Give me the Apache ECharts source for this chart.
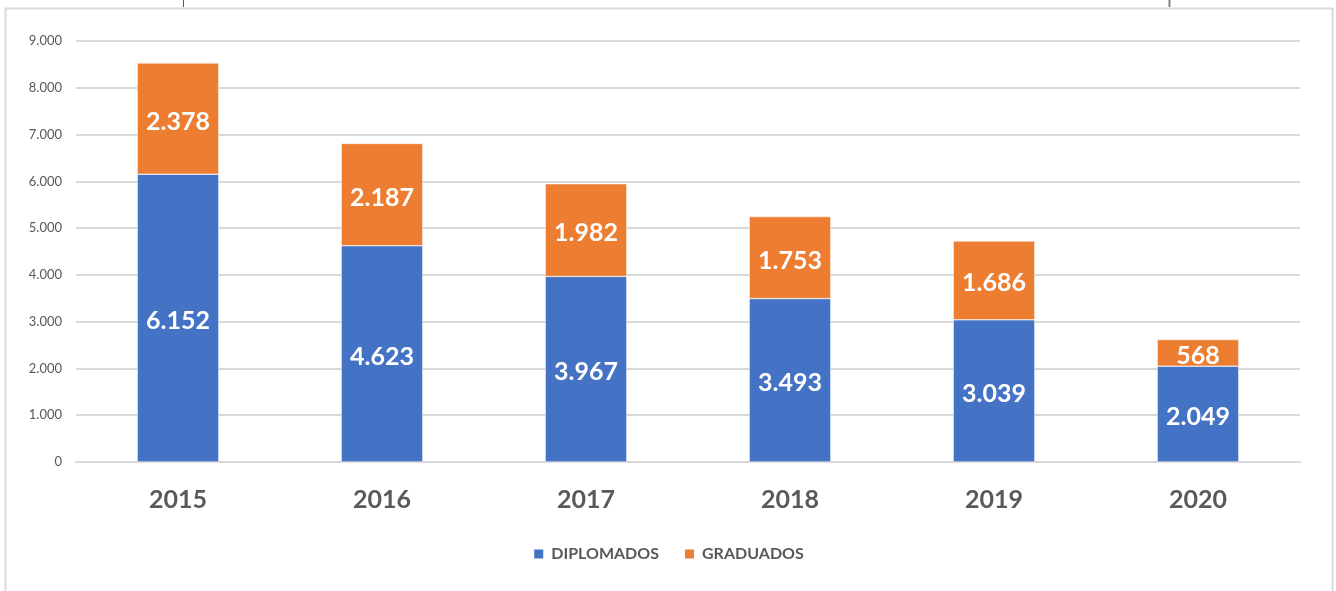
<!DOCTYPE html>
<html lang="es">
<head>
  <meta charset="UTF-8">
  <title>Diplomados y graduados</title>
  <style>
    * { margin: 0; padding: 0; box-sizing: border-box; }
    body { background: #fff; }
    #chart { width: 1336px; height: 591px; }
  </style>
</head>
<body>
  <div id="chart"></div>
  <script src="https://cdn.jsdelivr.net/npm/echarts@6/dist/echarts.min.js"></script>
  <script>
    const years = ['2015', '2016', '2017', '2018', '2019', '2020']
    const diplomados = [6152, 4623, 3967, 3493, 3039, 2049]
    const graduados = [2378, 2187, 1982, 1753, 1686, 568]
    const yTicks = [0, 1000, 2000, 3000, 4000, 5000, 6000, 7000, 8000, 9000]

    const fmt = v => String(v).replace(/\B(?=(\d{3})+(?!\d))/g, '.')
    const font = 'Lato, "Open Sans", sans-serif'

    const chart = echarts.init(document.getElementById('chart'))

    const labelStyle = {
      show: true,
      position: 'inside',
      offset: [0, 3],
      color: '#fff',
      fontFamily: font,
      fontWeight: 'bold',
      fontSize: 25,
      formatter: p => fmt(p.value)
    }

    chart.setOption({
      animation: false,
      textStyle: { fontFamily: font },
      graphic: [
        // outer frame of the chart area
        {
          type: 'rect',
          shape: { x: 5.5, y: 8.5, width: 1327, height: 600 },
          style: { fill: 'none', stroke: '#d9d9d9', lineWidth: 2 }
        },
        { type: 'line', shape: { x1: 183.5, y1: 0, x2: 183.5, y2: 7 }, style: { stroke: '#595959', lineWidth: 1 } },
        { type: 'line', shape: { x1: 1169.5, y1: 0, x2: 1169.5, y2: 7 }, style: { stroke: '#808080', lineWidth: 2 } }
      ],
      grid: { left: 76, right: 36, top: 41, bottom: 129, containLabel: false },
      legend: {
        bottom: 24,
        left: 'center',
        itemWidth: 11,
        itemHeight: 11,
        itemGap: 24,
        icon: 'rect',
        textStyle: { color: '#595959', fontWeight: 'bold', fontSize: 16, fontFamily: font, padding: [0, 0, 0, 2] },
        data: ['DIPLOMADOS', 'GRADUADOS']
      },
      xAxis: {
        type: 'category',
        data: years,
        axisLine: { lineStyle: { color: '#d9d9d9', width: 2 } },
        axisTick: { show: false },
        axisLabel: { color: '#595959', fontWeight: 'bold', fontSize: 25, margin: 25, fontFamily: font }
      },
      yAxis: {
        type: 'value',
        min: yTicks[0],
        max: yTicks[yTicks.length - 1],
        interval: 1000,
        axisLine: { show: false },
        axisTick: { show: false },
        axisLabel: { color: '#595959', fontSize: 13, margin: 14, formatter: fmt, fontFamily: font },
        splitLine: { lineStyle: { color: '#d9d9d9', width: 2 } }
      },
      series: [
        {
          name: 'DIPLOMADOS',
          type: 'bar',
          stack: 'total',
          barWidth: '40%',
          data: diplomados,
          itemStyle: { color: '#4472c4', borderColor: '#fff', borderWidth: 0.5 },
          label: labelStyle
        },
        {
          name: 'GRADUADOS',
          type: 'bar',
          stack: 'total',
          barWidth: '40%',
          data: graduados,
          itemStyle: { color: '#ed7d31', borderColor: '#fff', borderWidth: 0.5 },
          label: labelStyle
        }
      ]
    })
  </script>
</body>
</html>
